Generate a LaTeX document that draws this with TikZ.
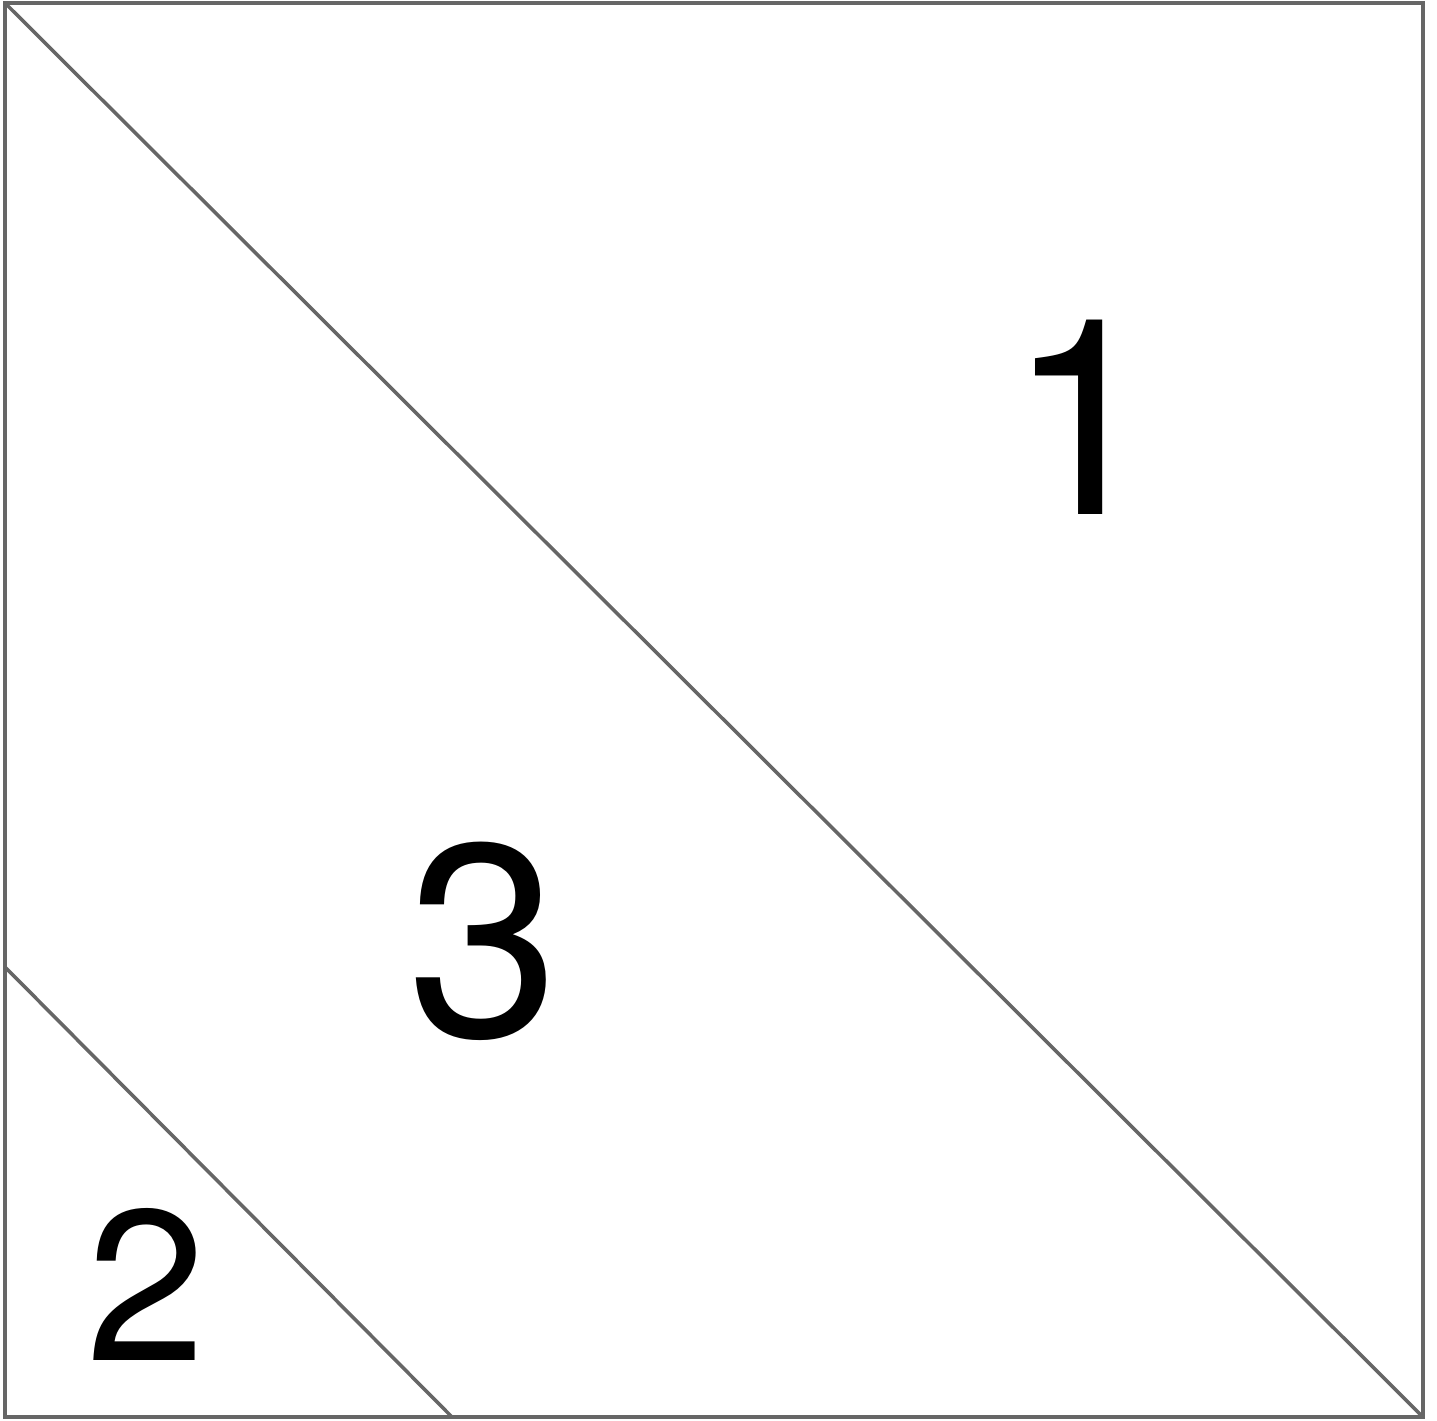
\documentclass[tikz,border=0pt]{standalone}
\usepackage{fontspec}
\setmainfont{TeX Gyre Heros}
\usetikzlibrary{positioning}

\begin{document}
\begin{tikzpicture}[
    x=0.01cm, y=-0.01cm,
    edge/.style={draw=black!60, line width=1pt},
    region/.style={inner sep=0pt, font=\fontsize{78}{80}\selectfont},
    small/.style={inner sep=0pt, font=\fontsize{61}{63}\selectfont}
]
    \useasboundingbox (0,0) rectangle (1437,1420);

    % corners of the square
    \coordinate (tl) at (5,3);
    \coordinate (tr) at (1423,3);
    \coordinate (br) at (1423,1417);
    \coordinate (bl) at (5,1417);

    % ends of the short cut
    \coordinate (cutl) at (5,967);
    \coordinate (cutb) at (452,1417);

    % Outline and cuts
    \draw[edge] (tl) -- (tr) -- (br) -- (bl) -- cycle;
    \draw[edge] (tl) -- (br);
    \draw[edge] (cutl) -- (cutb);

    % Region labels
    \node[region] (one) at (1084,417) {1};
    \node[region] (three) at (484,941) {3};
    \node[small] (two) at (146,1284) {2};
\end{tikzpicture}
\end{document}
